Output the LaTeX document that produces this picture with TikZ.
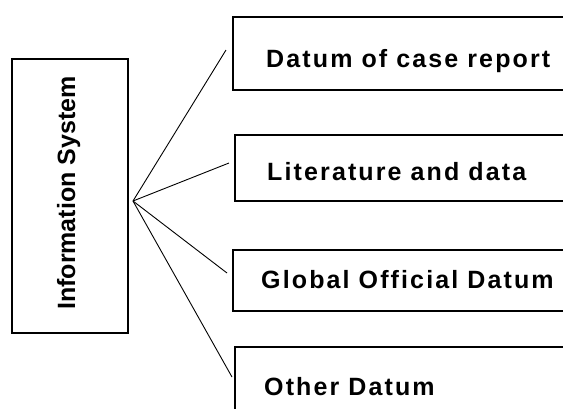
\documentclass[tikz,border=0pt]{standalone}
\usepackage{fontspec}
\setmainfont{Liberation Sans}
\newfontfamily\boxfont[LetterSpace=8.5]{Liberation Sans}
\begin{document}
\begin{tikzpicture}[x=1pt,y=-1pt,
  frame/.style={draw=black,line width=1.5pt,rectangle,inner sep=0pt,anchor=north west},
  boxtext/.style={anchor=base west,inner sep=0pt,font=\boxfont\bfseries\fontsize{25}{30}\selectfont},
  link/.style={draw=black,line width=0.9pt}]
\useasboundingbox (0,0) rectangle (563,408);
\clip (0,0) rectangle (563,408);
\fill[white] (0,0) rectangle (563,408);

% left frame with rotated title
\node[frame,minimum width=116pt,minimum height=274pt] (sys) at (11,58) {};
\node[anchor=base west,inner sep=0pt,rotate=90,font=\bfseries\fontsize{25}{30}\selectfont] (systxt) at (75,310) {Information System};

% right frames (running off the right edge)
\node[frame,minimum width=345pt,minimum height=73pt] (b1) at (232,16) {};
\node[frame,minimum width=345pt,minimum height=66pt] (b2) at (234,134) {};
\node[frame,minimum width=345pt,minimum height=61pt] (b3) at (232,249) {};
\node[frame,minimum width=345pt,minimum height=80pt] (b4) at (234,346) {};

\node[boxtext] (t1) at (266,67) {Datum of case report};
\node[boxtext] (t2) at (267,180) {Literature and data};
\node[boxtext] (t3) at (261,288) {Global Official Datum};
\node[boxtext] (t4) at (264,395) {Other Datum};

% fan of connectors
\coordinate (hub) at (133,201);
\coordinate (e1) at (226,50);
\coordinate (e2) at (229,163);
\coordinate (e3) at (227,273);
\coordinate (e4) at (232,377);
\draw[link] (hub) -- (e1);
\draw[link] (hub) -- (e2);
\draw[link] (hub) -- (e3);
\draw[link] (hub) -- (e4);
\end{tikzpicture}
\end{document}
